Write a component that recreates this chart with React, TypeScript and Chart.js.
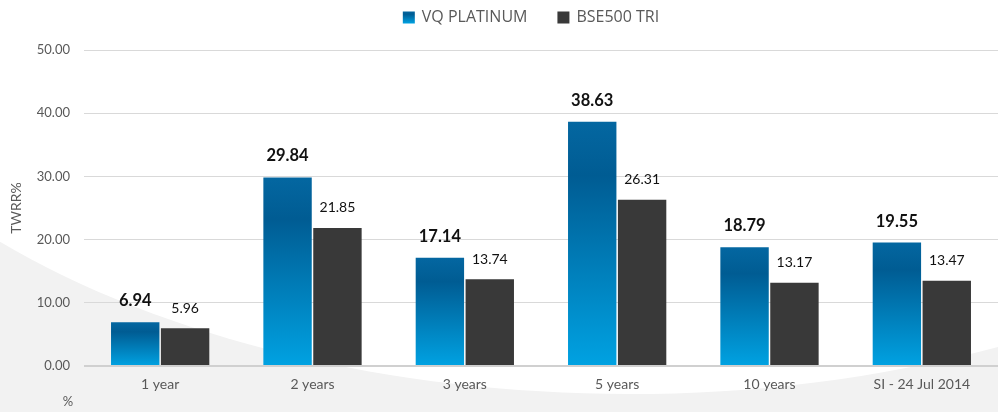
import { useEffect, useRef } from 'react';
import { Chart, registerables } from 'chart.js';

Chart.register(...registerables);

const categories = ['1 year', '2 years', '3 years', '5 years', '10 years', 'SI - 24 Jul 2014'];
const vqPlatinum = [6.94, 29.84, 17.14, 38.63, 18.79, 19.55];
const bse500Tri = [5.96, 21.85, 13.74, 26.31, 13.17, 13.47];
const seriesNames = ['VQ PLATINUM', 'BSE500 TRI'];
const yTicks = [0, 10, 20, 30, 40, 50];
const yTitle = 'TWRR%';
const unitLabel = '%';

const GREY_TEXT = '#595959';
const DARK_BAR = '#393939';

function blueGradient(ctx: CanvasRenderingContext2D, top: number, bottom: number) {
  const g = ctx.createLinearGradient(0, top, 0, bottom);
  g.addColorStop(0, '#0467a1');
  g.addColorStop(0.22, '#005c93');
  g.addColorStop(1, '#00a2e2');
  return g;
}

const backgroundPlugin = {
  id: 'swooshBg',
  beforeDraw(chart: any) {
    const { ctx, width: w, height: h } = chart;
    ctx.save();
    ctx.fillStyle = '#f2f2f2';
    ctx.fillRect(0, 0, w, h);
    ctx.fillStyle = '#ffffff';
    ctx.beginPath();
    ctx.moveTo(0, 0);
    ctx.lineTo(0, h * 0.587);
    ctx.bezierCurveTo(w * 0.2505, h * 0.9466, w * 0.651, h * 1.068, w, h * 0.842);
    ctx.lineTo(w, 0);
    ctx.closePath();
    ctx.fill();
    ctx.restore();
  },
};

const legendPlugin = {
  id: 'customLegend',
  afterDraw(chart: any) {
    const { ctx, chartArea } = chart;
    ctx.save();
    ctx.font = '16px "Open Sans"';
    ctx.textBaseline = 'middle';
    const box = 12;
    const textGap = 7;
    const itemGap = 30;
    const widths = seriesNames.map((n) => box + textGap + ctx.measureText(n).width);
    const total = widths.reduce((a, b) => a + b, 0) + itemGap * (seriesNames.length - 1);
    let x = (chartArea.left + chartArea.right) / 2 - 10 - total / 2;
    const cy = 17.5;
    seriesNames.forEach((n, i) => {
      if (i === 0) {
        ctx.fillStyle = blueGradient(ctx, cy - box / 2, cy + box / 2);
      } else {
        ctx.fillStyle = DARK_BAR;
      }
      ctx.fillRect(x, cy - box / 2, box, box);
      ctx.fillStyle = GREY_TEXT;
      ctx.textAlign = 'left';
      ctx.fillText(n, x + box + textGap, cy);
      x += widths[i] + itemGap;
    });
    ctx.fillStyle = GREY_TEXT;
    ctx.font = '13px Lato';
    ctx.textAlign = 'center';
    ctx.fillText(unitLabel, chartArea.left - 16, chart.height - 10);
    ctx.restore();
  },
};

const valueLabelPlugin = {
  id: 'valueLabels',
  afterDatasetsDraw(chart: any) {
    const { ctx } = chart;
    ctx.save();
    ctx.textAlign = 'center';
    ctx.textBaseline = 'bottom';
    chart.data.datasets.forEach((ds: any, di: number) => {
      const meta = chart.getDatasetMeta(di);
      ctx.font = di === 0 ? 'bold 16.5px Lato' : '14px Lato';
      ctx.fillStyle = '#111111';
      meta.data.forEach((bar: any, i: number) => {
        const v = ds.data[i] as number;
        ctx.fillText(v.toFixed(2), bar.x, bar.y - 13);
      });
    });
    ctx.restore();
  },
};

export default function App() {
  const canvasRef = useRef<HTMLCanvasElement | null>(null);

  useEffect(() => {
    document.body.style.margin = '0';
    const canvas = canvasRef.current;
    if (!canvas) return;
    const chart = new Chart(canvas, {
      type: 'bar',
      data: {
        labels: categories,
        datasets: [
          {
            label: seriesNames[0],
            data: vqPlatinum,
            backgroundColor: (c: any) => {
              const ch = c.chart;
              if (!ch.chartArea || c.type !== 'data') return '#0070ab';
              const y = ch.scales.y;
              const top = y.getPixelForValue(c.raw as number);
              const base = y.getPixelForValue(0);
              return blueGradient(ch.ctx, top, base);
            },
            categoryPercentage: 0.655,
            barPercentage: 0.97,
          },
          {
            label: seriesNames[1],
            data: bse500Tri,
            backgroundColor: DARK_BAR,
            categoryPercentage: 0.655,
            barPercentage: 0.97,
          },
        ],
      },
      options: {
        responsive: true,
        maintainAspectRatio: false,
        animation: false,
        layout: { padding: { top: 50, right: 0, left: 0, bottom: 0 } },
        plugins: {
          legend: { display: false },
          tooltip: { enabled: false },
        },
        font: { family: 'Lato' },
        scales: {
          x: {
            grid: { display: false, drawTicks: false },
            border: { display: false },
            ticks: { color: GREY_TEXT, font: { family: 'Lato', size: 14 }, padding: 10 },
            afterFit: (s: any) => {
              s.height = 46;
            },
          },
          y: {
            min: 0,
            max: 50,
            afterBuildTicks: (s: any) => {
              s.ticks = yTicks.map((v) => ({ value: v }));
            },
            grid: {
              drawTicks: false,
              color: (c: any) => (c.tick && c.tick.value === 0 ? '#d0d0d0' : '#d9d9d9'),
              lineWidth: (c: any) => (c.tick && c.tick.value === 0 ? 2 : 1),
            },
            border: { display: false },
            ticks: {
              color: GREY_TEXT,
              font: { family: 'Lato', size: 13 },
              padding: 14,
              callback: (v: any) => Number(v).toFixed(2),
            },
            title: {
              display: true,
              text: yTitle,
              color: GREY_TEXT,
              font: { family: 'Lato', size: 14 },
              padding: { top: 8, bottom: 0 },
            },
            afterFit: (s: any) => {
              s.width = 84;
            },
          },
        },
      } as any,
      plugins: [backgroundPlugin, legendPlugin, valueLabelPlugin],
    });
    return () => chart.destroy();
  }, []);

  return (
    <div style={{ position: 'absolute', left: 0, top: 0, width: 998, height: 412 }}>
      <canvas ref={canvasRef} />
    </div>
  );
}
